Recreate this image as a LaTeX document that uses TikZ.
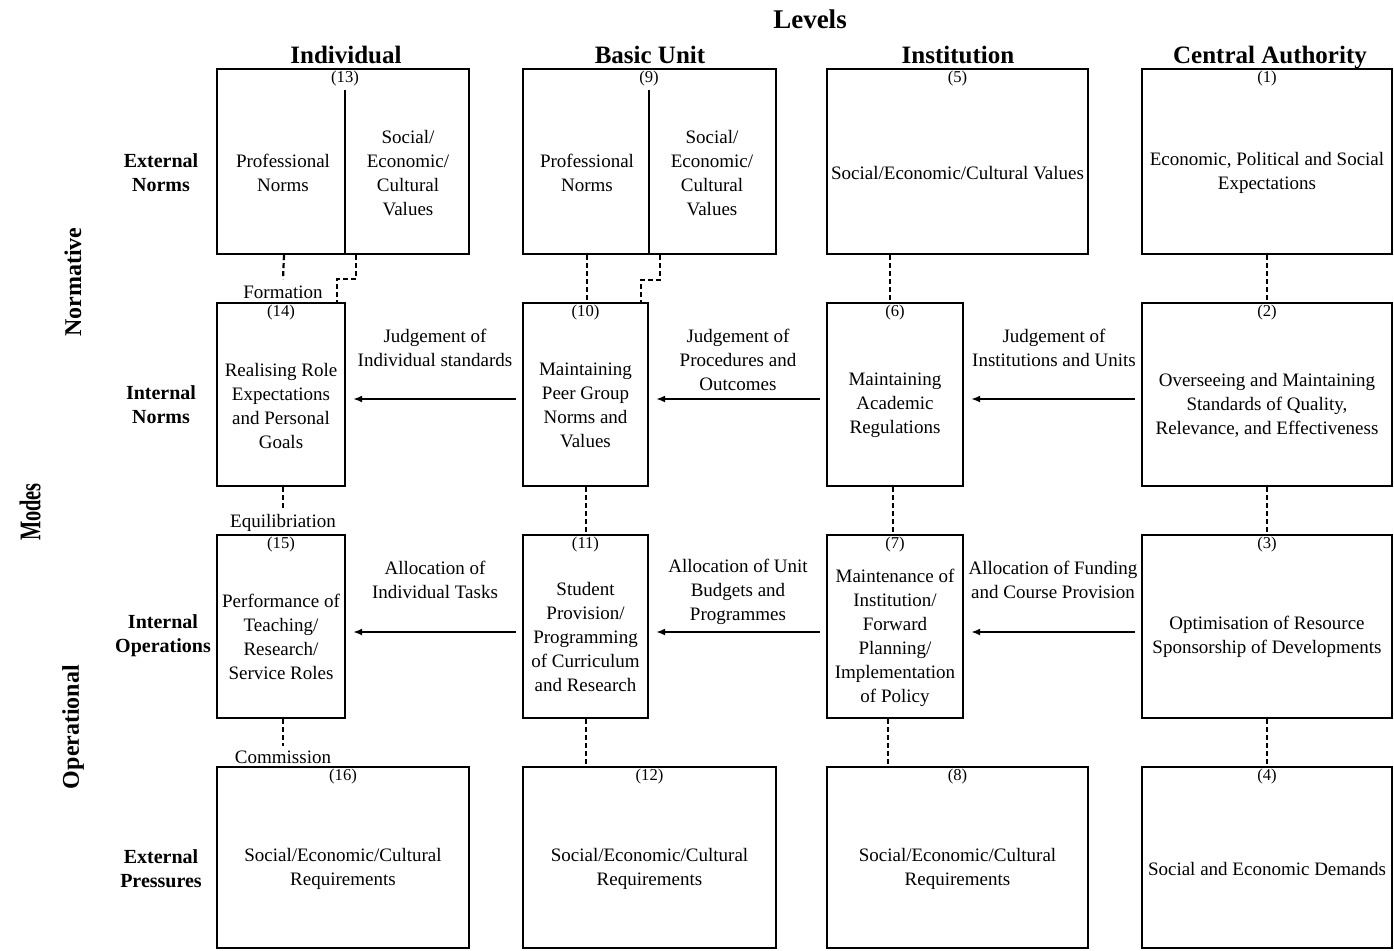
\documentclass[tikz,border=0pt]{standalone}
\usepackage{fontspec}
\usepackage{graphicx}
\setmainfont{Liberation Serif}
\usetikzlibrary{arrows.meta,calc}
\begin{document}
\begin{tikzpicture}[x=0.5pt,y=-0.5pt,
  box/.style={draw, line width=1.2pt, inner sep=0pt, minimum height=#1},
  box/.default=91.5pt,
  txt/.style={align=center, font=\fontsize{9.5}{12}\selectfont, inner sep=0pt},
  num/.style={font=\fontsize{8.3}{9}\selectfont, inner sep=0pt, anchor=north},
  hdr/.style={font=\fontsize{12.5}{14}\selectfont\bfseries, inner sep=0pt, anchor=base},
  rowlab/.style={align=center, font=\fontsize{10}{12}\selectfont\bfseries, inner sep=0pt},
  modelab/.style={rotate=90, font=\fontsize{12}{14}\selectfont\bfseries, inner sep=0pt},
  dots/.style={line width=1.1pt, dash pattern=on 2.5pt off 1.5pt},
  arr/.style={line width=0.8pt, -{Latex[length=4.5pt,width=3.5pt]}, shorten >=3.5pt, shorten <=3pt},
]
\useasboundingbox (0,0) rectangle (1394,950);

% headers
\node[hdr, font=\fontsize{13.5}{15}\selectfont\bfseries] (levels) at (810,28) {Levels};
\node[hdr] (hind) at (346,63) {Individual};
\node[hdr] (hbas) at (650,63) {Basic Unit};
\node[hdr] (hins) at (958,63) {Institution};
\node[hdr] (hcen) at (1270,63) {Central Authority};

% row labels
\node[rowlab] (rl1) at (161,173) {External\\Norms};
\node[rowlab] (rl2) at (161,405) {Internal\\Norms};
\node[rowlab] (rl3) at (163,636) {Internal\\Operations};
\node[rowlab] (rl4) at (161,869) {External\\Pressures};
\node[modelab] (normative) at (73,282) {Normative};
\node[modelab] (operational) at (73,727) {Operational};
\node[modelab, font=\fontsize{15}{17}\selectfont\bfseries] (modes) at (30,512) {\scalebox{0.68}[1]{Modes}};

% row 1 boxes
\node[box=92.5pt, minimum width=126pt] (b13) at (343,161.5) {};
\node[box=92.5pt, minimum width=126.5pt] (b9) at (649.5,161.5) {};
\node[box=92.5pt, minimum width=130.5pt] (b5) at (957.5,161.5) {};
\node[box=92.5pt, minimum width=125pt] (b1) at (1267,161.5) {};
% row 2 boxes
\node[box, minimum width=64pt] (b14) at (281,394.5) {};
\node[box, minimum width=62.5pt] (b10) at (585.5,394.5) {};
\node[box, minimum width=68pt] (b6) at (895,394.5) {};
\node[box, minimum width=125pt] (b2) at (1267,394.5) {};
% row 3 boxes
\node[box, minimum width=64pt] (b15) at (281,626.5) {};
\node[box, minimum width=62.5pt] (b11) at (585.5,626.5) {};
\node[box, minimum width=68pt] (b7) at (895,626.5) {};
\node[box, minimum width=125pt] (b3) at (1267,626.5) {};
% row 4 boxes
\node[box=90.5pt, minimum width=126pt] (b16) at (343,857.5) {};
\node[box=90.5pt, minimum width=126.5pt] (b12) at (649.5,857.5) {};
\node[box=90.5pt, minimum width=130.5pt] (b8) at (957.5,857.5) {};
\node[box=90.5pt, minimum width=125pt] (b4) at (1267,857.5) {};

% dividers in boxes 13 and 9
\coordinate (d13) at (345,90);
\coordinate (d9) at (649,90);
\draw[line width=1.2pt] (d13) -- (d13 |- b13.south);
\draw[line width=1.2pt] (d9) -- (d9 |- b9.south);

% numbers
\node[num] (n13) at ([yshift=-1.5pt]b13.north -| d13) {(13)};
\node[num] (n9) at ([yshift=-1.5pt]b9.north -| d9) {(9)};
\node[num] (n5) at ([yshift=-1.5pt]b5.north) {(5)};
\node[num] (n1) at ([yshift=-1.5pt]b1.north) {(1)};
\node[num] (n14) at ([yshift=-1.5pt]b14.north) {(14)};
\node[num] (n10) at ([yshift=-1.5pt]b10.north) {(10)};
\node[num] (n6) at ([yshift=-1.5pt]b6.north) {(6)};
\node[num] (n2) at ([yshift=-1.5pt]b2.north) {(2)};
\node[num] (n15) at ([yshift=-1.5pt]b15.north) {(15)};
\node[num] (n11) at ([yshift=-1.5pt]b11.north) {(11)};
\node[num] (n7) at ([yshift=-1.5pt]b7.north) {(7)};
\node[num] (n3) at ([yshift=-1.5pt]b3.north) {(3)};
\node[num] (n16) at ([yshift=-1.5pt]b16.north) {(16)};
\node[num] (n12) at ([yshift=-1.5pt]b12.north) {(12)};
\node[num] (n8) at ([yshift=-1.5pt]b8.north) {(8)};
\node[num] (n4) at ([yshift=-1.5pt]b4.north) {(4)};

% box texts row 1
\node[txt] (t13a) at (283,173) {Professional\\Norms};
\node[txt] (t13b) at (408,173) {Social/\\Economic/\\Cultural\\Values};
\node[txt] (t9a) at (587,173) {Professional\\Norms};
\node[txt] (t9b) at (712,173) {Social/\\Economic/\\Cultural\\Values};
\node[txt] (t5) at ([yshift=-5.75pt]b5.center) {Social/Economic/Cultural Values};
\node[txt] (t1) at ([yshift=-5.75pt]b1.center) {Economic, Political and Social\\Expectations};
% row 2
\node[txt] (t14) at ([yshift=-5.5pt]b14.center) {Realising Role\\Expectations\\and Personal\\Goals};
\node[txt] (t10) at ([yshift=-5.5pt]b10.center) {Maintaining\\Peer Group\\Norms and\\Values};
\node[txt] (t6) at ([yshift=-5.5pt]b6.center) {Maintaining\\Academic\\Regulations};
\node[txt] (t2) at ([yshift=-5.5pt]b2.center) {Overseeing and Maintaining\\Standards of Quality,\\Relevance, and Effectiveness};
% row 3
\node[txt] (t15) at ([yshift=-5pt]b15.center) {Performance of\\Teaching/\\Research/\\Service Roles};
\node[txt] (t11) at ([yshift=-5.25pt]b11.center) {Student\\Provision/\\Programming\\of Curriculum\\and Research};
\node[txt] (t7) at ([yshift=-5.75pt]b7.center) {Maintenance of\\Institution/\\Forward\\Planning/\\Implementation\\of Policy};
\node[txt] (t3) at ([yshift=-5pt]b3.center) {Optimisation of Resource\\Sponsorship of Developments};
% row 4
\node[txt] (t16) at ([yshift=-5.75pt]b16.center) {Social/Economic/Cultural\\Requirements};
\node[txt] (t12) at ([yshift=-5.75pt]b12.center) {Social/Economic/Cultural\\Requirements};
\node[txt] (t8) at ([yshift=-5.75pt]b8.center) {Social/Economic/Cultural\\Requirements};
\node[txt] (t4) at ([yshift=-5.75pt]b4.center) {Social and Economic Demands};

% connector labels (vertical)
\node[txt] (lf) at (283,292) {Formation};
\node[txt] (le) at (283,523) {Equilibriation};
\node[txt] (lc) at (283,757) {Commission};

% arrow labels
\node[txt] (a1) at (435,348) {Judgement of\\Individual standards};
\node[txt] (a2) at (738,360) {Judgement of\\Procedures and\\Outcomes};
\node[txt] (a3) at (1054,348) {Judgement of\\Institutions and Units};
\node[txt] (a4) at (435,580) {Allocation of\\Individual Tasks};
\node[txt] (a5) at (738,592) {Allocation of Unit\\Budgets and\\Programmes};
\node[txt] (a6) at (1053,580) {Allocation of Funding\\and Course Provision};

% dotted connectors
\draw[dots] ([xshift=-29.5pt]b13.south) -- ([yshift=3pt]lf.north);
\draw[dots] ($(d13 |- b13.south)+(11,0)$) |- ($(d13)+(-8,189)$) -- ($(d13 |- b14.north)+(-8,0)$);
\draw[dots] ([xshift=0.75pt]b10.north |- b9.south) -- ([xshift=0.75pt]b10.north);
\draw[dots] ($(d9 |- b9.south)+(11,0)$) |- ($(d9)+(-8,190)$) -- ($(d9 |- b10.north)+(-8,0)$);
\draw[dots] ([xshift=-2.5pt]b6.north |- b5.south) -- ([xshift=-2.5pt]b6.north);
\draw[dots] (b2.north |- b1.south) -- (b2.north);
\draw[dots] ([xshift=1pt]b14.south) -- ([yshift=3pt]le.north);
\draw[dots] ([xshift=0.25pt]b10.south) -- ([xshift=0.25pt]b11.north);
\draw[dots] ([xshift=-1pt]b6.south) -- ([xshift=-1pt]b7.north);
\draw[dots] (b2.south) -- (b3.north);
\draw[dots] ([xshift=1pt]b15.south) -- ([yshift=2pt]lc.north);
\draw[dots] ([xshift=0.25pt]b11.south) -- ([xshift=0.25pt]b11.south |- b12.north);
\draw[dots] ([xshift=-3.5pt]b7.south) -- ([xshift=-3.5pt]b7.south |- b8.north);
\draw[dots] (b3.south) -- (b4.north);

% arrows
\draw[arr] ([yshift=-2.25pt]b10.west) -- ([yshift=-2.25pt]b14.east);
\draw[arr] ([yshift=-2.25pt]b6.west) -- ([yshift=-2.25pt]b10.east);
\draw[arr] ([yshift=-2.25pt]b2.west) -- ([yshift=-2.25pt]b6.east);
\draw[arr] ([yshift=-2.75pt]b11.west) -- ([yshift=-2.75pt]b15.east);
\draw[arr] ([yshift=-2.75pt]b7.west) -- ([yshift=-2.75pt]b11.east);
\draw[arr] ([yshift=-2.75pt]b3.west) -- ([yshift=-2.75pt]b7.east);
\end{tikzpicture}
\end{document}
